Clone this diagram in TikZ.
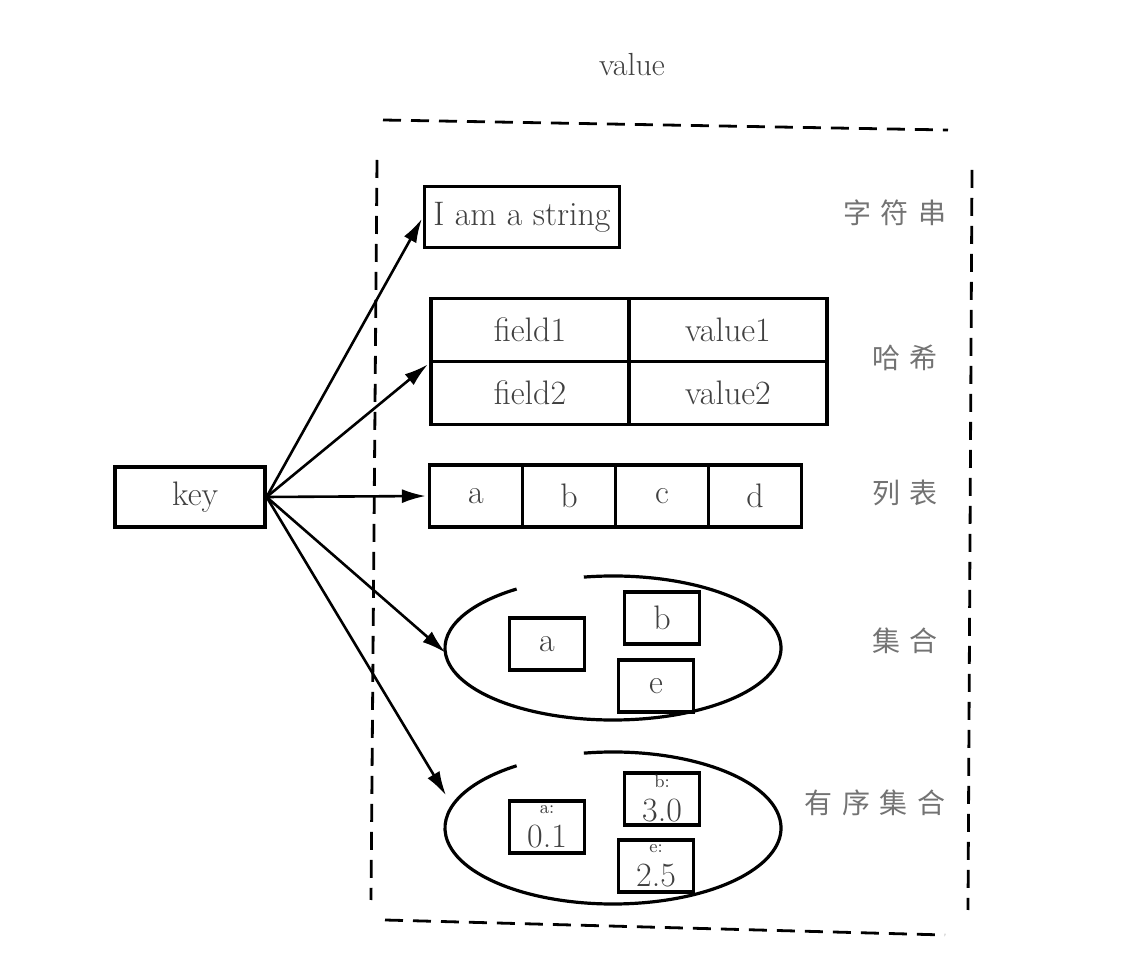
\documentclass[tikz,border=0pt]{standalone}
\usepackage{fontspec}
\newfontfamily\cjk[LetterSpace=35]{Noto Sans CJK SC}
\usetikzlibrary{arrows.meta}
\begin{document}
\begin{tikzpicture}[x=0.5pt, y=-0.5pt, line width=1.6pt, >={Latex[length=12pt,width=7pt]},
  cell node/.style={draw, rectangle, inner sep=0pt, font=\fontsize{17}{17}\selectfont, text=black!75},
  label node/.style={font=\cjk\fontsize{14}{14}\selectfont, text=black!55},
  edge line/.style={->, line width=1.3pt, shorten >=1pt},
  wall line/.style={dash pattern=on 9pt off 5pt, line width=1.4pt}]
\useasboundingbox (0,0) rectangle (1142,972);
\node [font=\fontsize{16}{16}\selectfont, text=black!75](val) at (632,65) {value};
% dashed value area
\draw [wall line] (383,120) -- (948,130);
\draw [wall line] (377,160) -- (371,900);
\draw [wall line] (972,170) -- (968,910);
\draw [wall line] (385,920) -- (945,935);
% key and values
\node [cell node, minimum width=75pt, minimum height=30pt](k) at (190,497) {\ key};
\node [cell node, minimum width=97.5pt, minimum height=30.5pt](s) at (522,217) {I am a string};
\begin{scope}[every node/.style={cell node, minimum width=99pt, minimum height=31.5pt}]
\node (f1) at (530,330) {field1};
\node (v1) at (728,330) {value1};
\node (f2) at (530,393) {field2};
\node (v2) at (728,393) {value2};
\end{scope}
\begin{scope}[every node/.style={cell node, minimum width=46.5pt, minimum height=31pt}]
\node (la) at (476,496) {a};
\node (lb) at (569,496) {b};
\node (lc) at (662,496) {c};
\node (ld) at (755,496) {d};
\end{scope}
% set
\draw ([shift={(260:168 and 72)}]613,648) arc[start angle=260, end angle=595, x radius=168, y radius=72];
\coordinate (set) at (447,654);
\begin{scope}[every node/.style={cell node, minimum width=37.5pt, minimum height=26pt}]
\node (sa) at (547,644) {a};
\node (sb) at (662,618) {b};
\node (se) at (656,686) {e};
\end{scope}
% sorted set
\draw ([shift={(260:168 and 76)}]613,828) arc[start angle=260, end angle=595, x radius=168, y radius=76];
\coordinate (zset) at (447,797);
\begin{scope}[every node/.style={cell node, minimum width=37.5pt, minimum height=26pt, align=center}]
\node (za) at (547,827) {{\fontsize{9}{9}\selectfont a:}\\0.1};
\node (zb) at (662,799) {{\fontsize{9}{9}\selectfont b:}\\3.0};
\node (ze) at (656,866) {{\fontsize{9}{9}\selectfont e:}\\2.5};
\end{scope}
% type labels
\begin{scope}[every node/.style={label node}]
\node (t1) at (895,213) {字符串};
\node (t2) at (905,358) {哈希};
\node (t3) at (905,493) {列表};
\node (t4) at (905,641) {集合};
\node (t5) at (875,803) {有序集合};
\end{scope}
% arrows
\draw [edge line] (k.east) -- (s.west);
\draw [edge line] (k.east) -- (f1.south west);
\draw [edge line] (k.east) -- (la.west);
\draw [edge line] (k.east) -- (set);
\draw [edge line] (k.east) -- (zset);
\end{tikzpicture}
\end{document}
